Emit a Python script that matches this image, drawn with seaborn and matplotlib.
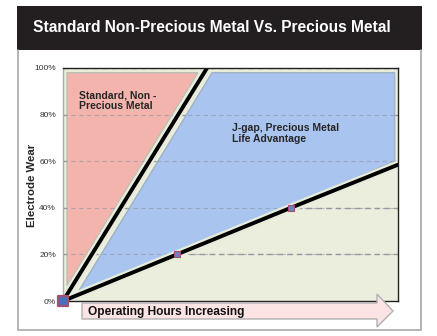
import matplotlib
matplotlib.use("Agg")
import matplotlib.pyplot as plt
import matplotlib.patches as mpatches
import seaborn as sns
import pandas as pd

# ---- data ----
hours_std = [0, 43]          # standard non-precious wear line (x, % of axis)
wear_std = [0, 100]
hours_prec = [0, 34, 68, 100]  # precious metal wear line
wear_prec = [0, 20, 40, 58.5]
marker_hours = [0, 34, 68]
marker_wear = [0, 20, 40]
pink_x = [1.2, 40.3, 1.2]
pink_y = [98, 98, 6.5]
blue_x = [3.6, 44.5, 99, 99]
blue_y = [1.7, 98, 98, 60]
yticks = [0, 20, 40, 60, 80, 100]
ytick_labels = ["0%", "20%", "40%", "60%", "80%", "100%"]
title = "Standard Non-Precious Metal Vs. Precious Metal"
ylabel = "Electrode Wear"
xlabel = "Operating Hours Increasing"
label_std = "Standard, Non -\nPrecious Metal"
label_gap = "J-gap, Precious Metal\nLife Advantage"

sns.set_style("white")
plt.rcParams['font.family'] = ['Liberation Sans', 'DejaVu Sans']

W, H = 437, 336
fig = plt.figure(figsize=(W / 100, H / 100), dpi=100)
fig.patch.set_facecolor("white")

def fx(px):
    return px / W

def fy(py):
    return 1 - py / H

# title bar
fig.patches.append(mpatches.Rectangle((fx(17), fy(50)), fx(422) - fx(17), fy(6) - fy(50),
                                      transform=fig.transFigure, facecolor="#231f20",
                                      edgecolor="none", zorder=0))
fig.text(fx(33), fy(28), title, color="white", fontsize=11.2, fontweight="bold",
         va="center", ha="left")
# outer frame
fig.lines.append(plt.Line2D([fx(18), fx(18), fx(421), fx(421)],
                            [fy(50), fy(330), fy(330), fy(50)],
                            transform=fig.transFigure, color="#a8a8a8", lw=1.2))

ax = fig.add_axes([fx(63), fy(301), fx(398) - fx(63), fy(68) - fy(301)])
ax.set_facecolor("#ebeedd")
ax.set_xlim(0, 100)
ax.set_ylim(0, 100)

for yv in yticks[1:]:
    ax.axhline(yv, color="#9a9a9a", lw=1.0, ls=(0, (4, 3)), zorder=1)

ax.fill(pink_x, pink_y, facecolor="#f4b4ae", edgecolor="#b8c2b4", lw=1.0, zorder=2)
ax.fill(blue_x, blue_y, facecolor="#a9c4ee", edgecolor="#9fb0c4", lw=1.0, zorder=2)
for yv in yticks[1:]:
    ax.axhline(yv, color="#8a94a8", lw=0.8, ls=(0, (4, 3)), zorder=2.5, alpha=0.6)

df_std = pd.DataFrame({"hours": hours_std, "wear": wear_std})
df_prec = pd.DataFrame({"hours": hours_prec, "wear": wear_prec})
sns.lineplot(data=df_std, x="hours", y="wear", ax=ax, color="#e8ecdc", lw=6, zorder=3)
sns.lineplot(data=df_std, x="hours", y="wear", ax=ax, color="black", lw=2.8, zorder=4)
sns.lineplot(data=df_prec, x="hours", y="wear", ax=ax, color="#e8ecdc", lw=6, zorder=3)
sns.lineplot(data=df_prec, x="hours", y="wear", ax=ax, color="black", lw=2.8, zorder=4)

df_m = pd.DataFrame({"hours": marker_hours, "wear": marker_wear})
sns.scatterplot(data=df_m.iloc[1:], x="hours", y="wear", ax=ax, marker="s", s=22,
                color="#6f7fc0", edgecolor="#a0506a", linewidth=0.8, zorder=5)
sns.scatterplot(data=df_m.iloc[:1], x="hours", y="wear", ax=ax, marker="s", s=55,
                color="#4a6fc0", edgecolor="#a05070", linewidth=1.6, zorder=8, clip_on=False)

ax.text(4.8, 90.5, label_std, fontsize=7.5, fontweight="bold", va="top", ha="left", zorder=6,
        linespacing=1.1)
ax.text(50.5, 76.5, label_gap, fontsize=7.5, fontweight="bold", va="top", ha="left", zorder=6,
        linespacing=1.1)

ax.set_yticks(yticks)
ax.set_yticklabels(ytick_labels, fontsize=6, color="#333333")
ax.set_xticks([])
ax.tick_params(axis="y", length=3, width=0.8, color="#999999", pad=2)
ax.set_xlabel("")
ax.set_ylabel("")
for s in ["top", "right", "bottom"]:
    ax.spines[s].set_color("#222222")
    ax.spines[s].set_linewidth(1.0)
ax.spines["left"].set_color("#aaaaaa")
ax.spines["left"].set_linewidth(1.0)
for s in ax.spines.values():
    s.set_zorder(7)

fig.text(fx(32), fy(185), ylabel, rotation=90, fontsize=8.2, fontweight="bold",
         va="center", ha="center")

# arrow
arrow_pts = [(82, 303), (377, 303), (377, 294), (393, 311), (377, 327), (377, 319), (82, 319)]
arrow = mpatches.Polygon([(fx(px), fy(py)) for px, py in arrow_pts], closed=True,
                         transform=fig.transFigure, facecolor="#fde4e4",
                         edgecolor="#b0b0b0", lw=1.0, zorder=1)
fig.patches.append(arrow)
fig.text(fx(88), fy(311.5), xlabel, fontsize=8.6, fontweight="bold", va="center",
         ha="left", color="#111111")

fig.savefig("out.png", dpi=100)
